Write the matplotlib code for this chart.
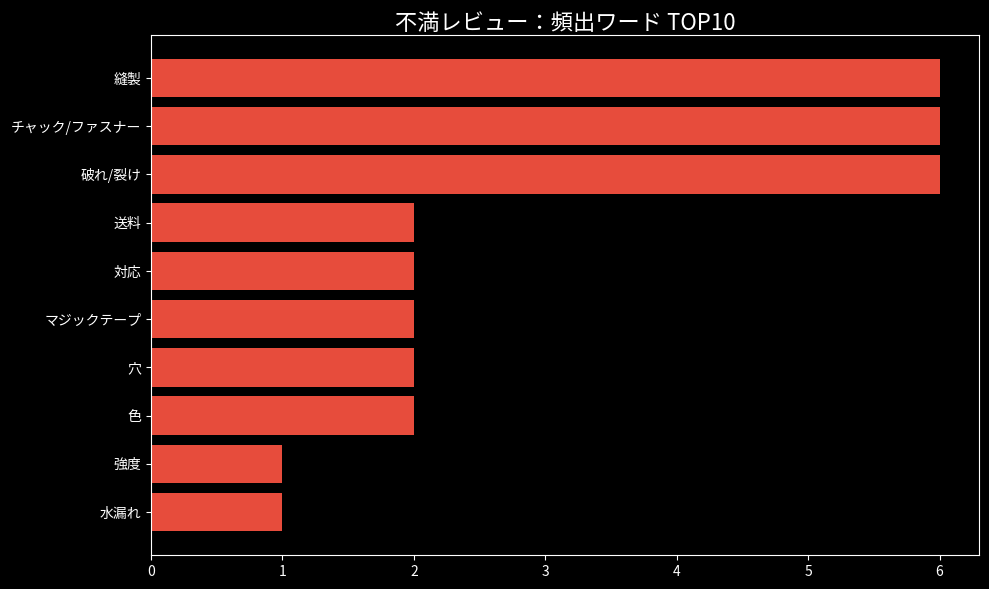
import matplotlib
matplotlib.use("Agg")
import matplotlib.pyplot as plt

plt.style.use("dark_background")
plt.rcParams["font.family"] = ["Noto Sans CJK JP", "DejaVu Sans"]

# Complaint keywords (top to bottom) and counts
words = ["縫製", "チャック/ファスナー", "破れ/裂け", "送料", "対応",
         "マジックテープ", "穴", "色", "強度", "水漏れ"]
counts = [6, 6, 6, 2, 2, 2, 2, 2, 1, 1]

fig = plt.figure(figsize=(9.89, 5.89), dpi=100)
ax = fig.add_axes([151 / 989, 1 - 555 / 589, (979 - 151) / 989, (555 - 35) / 589])

ax.barh(words[::-1], counts[::-1], color="#e74c3c", height=0.8)
ax.set_title("不満レビュー：頻出ワード TOP10", fontsize=16, pad=3)
ax.tick_params(labelsize=10)

fig.savefig("out.png", dpi=100, facecolor="black")
